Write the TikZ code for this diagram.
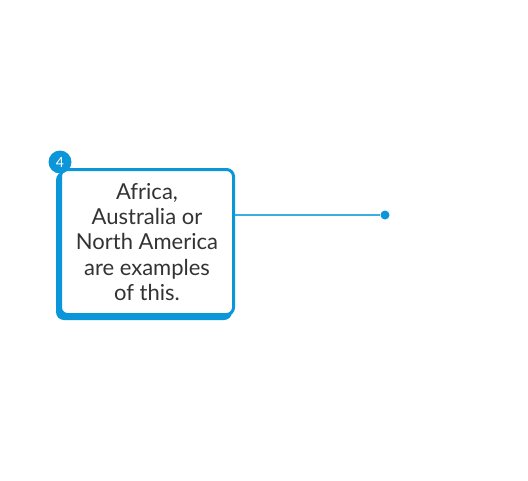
\documentclass[tikz,border=0pt]{standalone}
\usepackage{fontspec}
\setmainfont{Lato}
\usepackage{tikz}
\usetikzlibrary{calc,positioning}
\definecolor{boxblue}{HTML}{0A96D8}
\definecolor{lineblue}{HTML}{3AAEE0}
\definecolor{txtgrey}{HTML}{333333}

\begin{document}
\begin{tikzpicture}[x=1pt,y=-1pt]
\useasboundingbox (0,0) rectangle (528,480);
% shadow under the box
\fill[boxblue,rounded corners=8pt] (56,172) rectangle (232,320);
\node (box) at (147,242) [draw=boxblue,fill=white,line width=3pt,rounded corners=7pt,
  minimum width=173pt,minimum height=145pt,align=center,text=txtgrey,
  font=\fontsize{22}{25.3}\selectfont] {Africa,\\Australia or\\North America\\are examples\\of this.};
\node (num) at (60,162) [circle,fill=boxblue,inner sep=0pt,minimum size=23pt,text=white,
  font=\fontsize{14}{14}\selectfont] {4};
\node (dot) at (385,215) [circle,fill=boxblue,inner sep=0pt,minimum size=9pt] {};

\draw[lineblue,line width=1.4pt] (box.east |- dot) -- (dot);
\end{tikzpicture}
\end{document}
